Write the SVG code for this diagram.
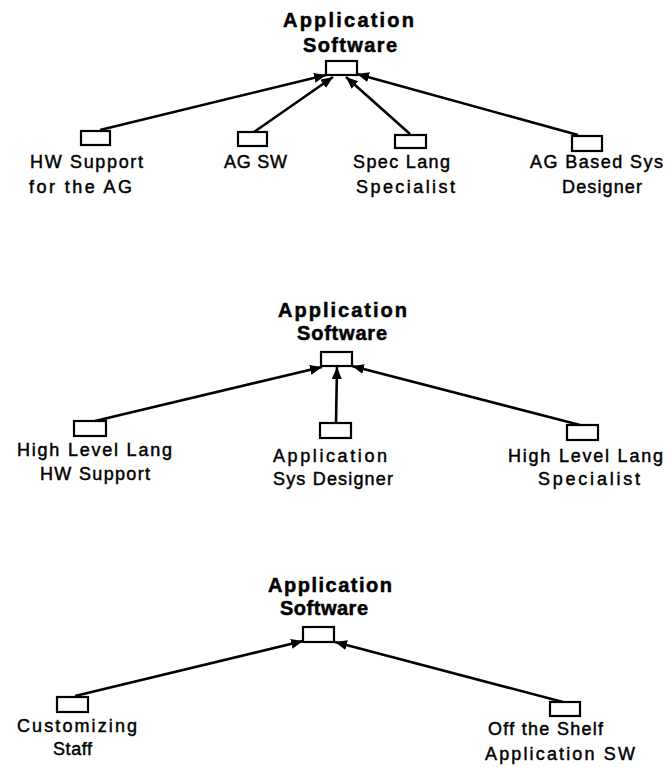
<svg xmlns="http://www.w3.org/2000/svg" width="666" height="767" viewBox="0 0 666 767">
<style>
.box{fill:#fff;stroke:#000;stroke-width:2.2}
.title{font-family:"Liberation Sans",Arial,sans-serif;font-weight:bold;font-size:20px;fill:#000;stroke:#000;stroke-width:0.5}
.lbl{font-family:"Liberation Sans",Arial,sans-serif;font-size:18px;fill:#000;stroke:#000;stroke-width:0.45}
.edge{stroke:#000;stroke-width:2.6;fill:none;marker-end:url(#ah)}
</style>
<defs>
<marker id="ah" markerUnits="userSpaceOnUse" markerWidth="14" markerHeight="11" refX="12" refY="5" orient="auto">
<path d="M0,0 L12,5 L0,10 z" fill="#000"/>
</marker>
</defs>
<rect width="666" height="767" fill="#fff"/>

<!-- Diagram 1 -->
<g id="d1-app">
<text class="title" x="283" y="27" textLength="131" lengthAdjust="spacing">Application</text>
<text class="title" x="303" y="52" textLength="94" lengthAdjust="spacing">Software</text>
<rect class="box" x="326" y="61" width="31" height="14"/>
</g>
<g id="d1-hw">
<rect class="box" x="81" y="131" width="29" height="14"/>
<text class="lbl" x="30" y="168" textLength="113" lengthAdjust="spacing">HW Support</text>
<text class="lbl" x="29" y="193" textLength="103" lengthAdjust="spacing">for the AG</text>
</g>
<g id="d1-agsw">
<rect class="box" x="238" y="132" width="29" height="14"/>
<text class="lbl" x="224" y="168" textLength="63" lengthAdjust="spacing">AG SW</text>
</g>
<g id="d1-spec">
<rect class="box" x="395" y="135" width="31" height="13"/>
<text class="lbl" x="353" y="168" textLength="97" lengthAdjust="spacing">Spec Lang</text>
<text class="lbl" x="356" y="193" textLength="99" lengthAdjust="spacing">Specialist</text>
</g>
<g id="d1-agbased">
<rect class="box" x="572" y="136" width="30" height="15"/>
<text class="lbl" x="530" y="168" textLength="133" lengthAdjust="spacing">AG Based Sys</text>
<text class="lbl" x="562" y="193" textLength="80" lengthAdjust="spacing">Designer</text>
</g>

<!-- Diagram 2 -->
<g id="d2-app">
<text class="title" x="278" y="317" textLength="129" lengthAdjust="spacing">Application</text>
<text class="title" x="297" y="340" textLength="90" lengthAdjust="spacing">Software</text>
<rect class="box" x="321" y="352" width="31" height="14"/>
</g>
<g id="d2-hll-hw">
<rect class="box" x="74" y="421" width="32" height="15"/>
<text class="lbl" x="17" y="456" textLength="155" lengthAdjust="spacing">High Level Lang</text>
<text class="lbl" x="40" y="480" textLength="110" lengthAdjust="spacing">HW Support</text>
</g>
<g id="d2-appsys">
<rect class="box" x="320" y="423" width="31" height="15"/>
<text class="lbl" x="273" y="462" textLength="114" lengthAdjust="spacing">Application</text>
<text class="lbl" x="273" y="485" textLength="120" lengthAdjust="spacing">Sys Designer</text>
</g>
<g id="d2-hll-spec">
<rect class="box" x="567" y="425" width="31" height="15"/>
<text class="lbl" x="508" y="462" textLength="155" lengthAdjust="spacing">High Level Lang</text>
<text class="lbl" x="538" y="485" textLength="102" lengthAdjust="spacing">Specialist</text>
</g>

<!-- Diagram 3 -->
<g id="d3-app">
<text class="title" x="268" y="592" textLength="124" lengthAdjust="spacing">Application</text>
<text class="title" x="280" y="615" textLength="88" lengthAdjust="spacing">Software</text>
<rect class="box" x="303" y="627" width="31" height="15"/>
</g>
<g id="d3-cust">
<rect class="box" x="57" y="697" width="31" height="15"/>
<text class="lbl" x="17" y="732" textLength="120" lengthAdjust="spacing">Customizing</text>
<text class="lbl" x="53" y="755" textLength="39" lengthAdjust="spacing">Staff</text>
</g>
<g id="d3-ots">
<rect class="box" x="550" y="702" width="30" height="14"/>
<text class="lbl" x="488" y="735" textLength="115" lengthAdjust="spacing">Off the Shelf</text>
<text class="lbl" x="485" y="760" textLength="150" lengthAdjust="spacing">Application SW</text>
</g>

<g id="connectors">
<line class="edge" x1="100" y1="130" x2="326" y2="75"/>
<line class="edge" x1="254" y1="132" x2="333" y2="77"/>
<line class="edge" x1="410" y1="134" x2="346" y2="77"/>
<line class="edge" x1="578" y1="135" x2="357" y2="74"/>
<line class="edge" x1="95" y1="421" x2="322" y2="367"/>
<line class="edge" x1="336" y1="423" x2="337" y2="367"/>
<line class="edge" x1="580" y1="425" x2="352" y2="366"/>
<line class="edge" x1="75" y1="696" x2="303" y2="641"/>
<line class="edge" x1="563" y1="702" x2="335" y2="642"/>
</g>
</svg>
